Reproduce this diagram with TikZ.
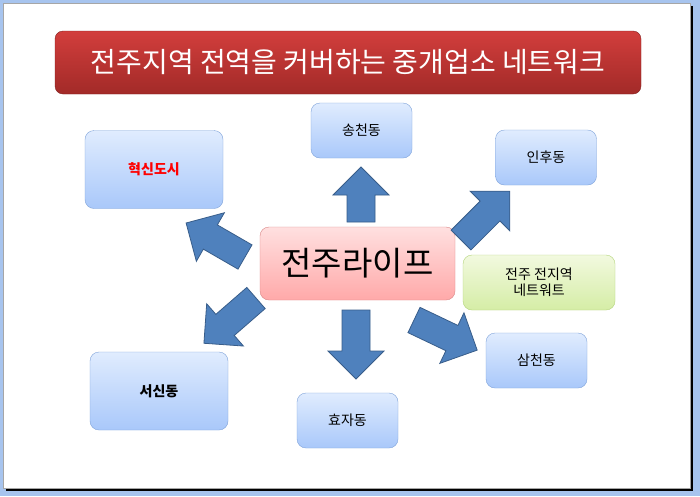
\documentclass[tikz,border=0pt]{standalone}
\usepackage{fontspec}
\newfontfamily\kr{Noto Sans CJK KR}
\usetikzlibrary{positioning}
\definecolor{frameBlue}{HTML}{A7C4EE}
\definecolor{titleTop}{HTML}{D23E3C}
\definecolor{titleBot}{HTML}{A22A28}
\definecolor{blueTop}{HTML}{E0ECFE}
\definecolor{blueBot}{HTML}{A9C8FA}
\definecolor{blueLine}{HTML}{7FA3DA}
\definecolor{pinkTop}{HTML}{FFE0E0}
\definecolor{pinkBot}{HTML}{FFA9A9}
\definecolor{pinkLine}{HTML}{D98585}
\definecolor{greenTop}{HTML}{F2F9DF}
\definecolor{greenBot}{HTML}{D5EDA6}
\definecolor{greenLine}{HTML}{B3D47A}
\definecolor{arrowBlue}{HTML}{4F81BD}
\definecolor{arrowLine}{HTML}{385D8A}

\tikzset{
  box/.style={rounded corners=9pt, inner sep=0pt, align=center,
    font=\kr\fontsize{14}{17}\selectfont},
  bluebox/.style={box, draw=blueLine, top color=blueTop, bottom color=blueBot,
    minimum width=101pt, minimum height=55pt},
  bigblue/.style={bluebox, minimum width=138pt, minimum height=78pt},
  blockarr/.pic={
    \draw[fill=arrowBlue, draw=arrowLine, line width=0.8pt, line join=miter]
      (0,-14) -- (#1-28,-14) -- (#1-28,-28) -- (#1,0) -- (#1-28,28)
      -- (#1-28,14) -- (0,14) -- cycle;
  }
}

\begin{document}
\begin{tikzpicture}[x=1pt, y=-1pt, font=\kr]
\useasboundingbox (0,0) rectangle (700,496);
% page frame with shadow
\fill[frameBlue] (0,0) rectangle (700,496);
\fill[black] (6,6) rectangle (693,491);
\draw[fill=white, draw=gray!70] (3.5,3.5) rectangle (690,488);

% title bar
\node[rounded corners=8pt, draw=titleBot!80!black, top color=titleTop, bottom color=titleBot,
  minimum width=586pt, minimum height=63pt, inner sep=0pt, text=white,
  font=\kr\fontsize{28}{32}\selectfont] (title) at (348,62.5)
  {전주지역 전역을 커버하는 중개업소 네트워크};

% centre and surrounding areas
\node[box, draw=pinkLine, top color=pinkTop, bottom color=pinkBot,
  minimum width=195pt, minimum height=73pt,
  font=\kr\fontsize{33}{38}\selectfont] (life) at (357.5,263.5) {전주라이프};
\node[bluebox] (song) at (361.5,130.5) {송천동};
\node[bigblue, font=\kr\bfseries\fontsize{14}{17}\selectfont, text=red] (hyuk) at (154,169.5) {혁신도시};
\node[bluebox] (inhu) at (546,157.5) {인후동};
\node[box, draw=greenLine, top color=greenTop, bottom color=greenBot,
  minimum width=152pt, minimum height=55pt] (net) at (539,282.5) {전주 전지역\\[-1pt]네트워트};
\node[bigblue, font=\kr\bfseries\fontsize{14}{17}\selectfont] (seo) at (159,391) {서신동};
\node[bluebox] (hyo) at (347.5,420.5) {효자동};
\node[bluebox] (sam) at (536.5,360.5) {삼천동};

% block arrows out of the centre
\coordinate (tN) at (361,222);
\coordinate (tS) at (356,310);
\coordinate (tNW) at (245,257);
\coordinate (tNE) at (461,240);
\coordinate (tSW) at (256,298);
\coordinate (tSE) at (414,320);
\foreach \c/\ang/\len in {tN/90/55, tS/-90/69, tNW/150/68, tNE/45/69, tSW/221/69, tSE/-25.5/70}{
  \pic[rotate=\ang] at (\c) {blockarr=\len};
}
\end{tikzpicture}
\end{document}
